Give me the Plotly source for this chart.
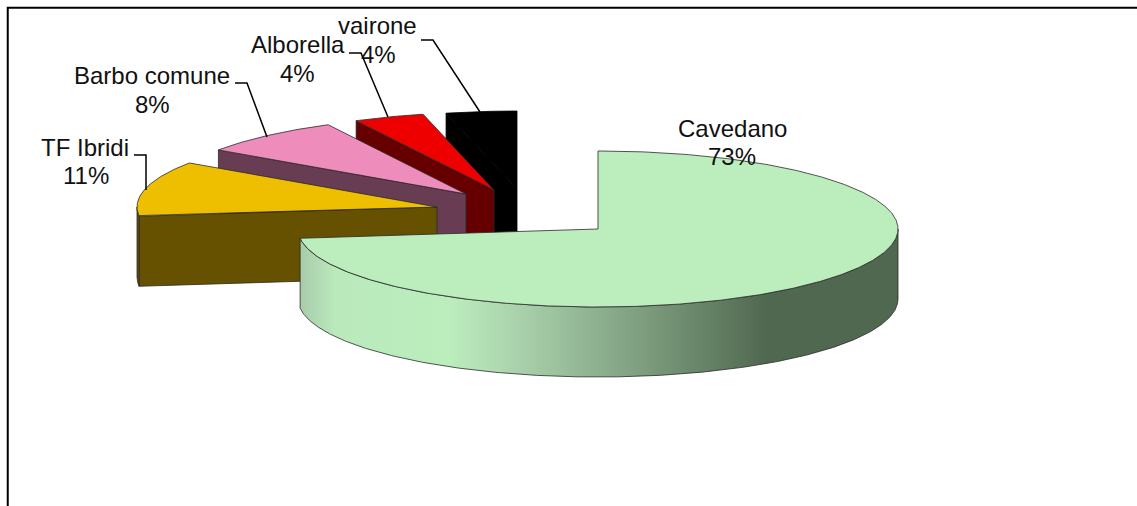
import numpy as np
import plotly.graph_objects as go

# Data
categories = ["Cavedano", "TF Ibridi", "Barbo comune", "Alborella", "vairone"]
values = [73.1, 11.45, 7.85, 3.8, 3.8]

# Styles and layout
top_colors = ["#BBEDBD", "#EEBE00", "#EE8CBC", "#EE0000", "#000000"]
wall_colors = ["#506850", "#665100", "#683C52", "#660000", "#000000"]
edge_colors = ["#2a2a2a", "#2a2a2a", "#2a2a2a", "#2a2a2a", "#000000"]
apex_x = [598, 437, 466, 494, 517]
apex_y = [229, 207, 194, 190, 189]
name_pos = [(732, 128), (85, 147), (152, 75), (298, 44), (377, 25)]
pct_pos = [(732, 156), (86, 175), (152, 104), (297, 73), (378, 54)]
leader_x = [None, (134, 146, 146), (235, 247, 267), (349, 361, 388), (421, 433, 480)]
leader_y = [None, (155, 155, 190), (83, 83, 137), (53, 53, 117), (40, 40, 112)]
RX, RY, DEPTH = 300, 78, 70
wall_scale = [[0, "#A8CBAA"], [0.06, "#BAEABC"], [0.25, "#BBEDBD"], [0.33, "#B0DAB2"],
              [0.5, "#8DB08F"], [0.78, "#506850"], [1, "#506850"]]

fig = go.Figure()


def rim(cx, cy, a0, a1):
    t = np.radians(np.linspace(a0, a1, max(int(abs(a1 - a0) * 2), 2)))
    return cx + RX * np.sin(t), cy - RY * np.cos(t)


def poly(x, y, color, edge="#2a2a2a", **kw):
    fig.add_trace(go.Scatter(x=list(x) + [x[0]], y=list(y) + [y[0]], mode="lines",
                             fill="toself", fillcolor=color, line=dict(color=edge, width=0.8),
                             hoverinfo="skip", showlegend=False, **kw))


# Slice angles, clockwise from twelve o'clock
edges = np.concatenate([[0], np.cumsum(values)]) * 3.6

# Back to front: vairone, Alborella, Barbo comune, TF Ibridi
for i in range(len(values) - 1, 0, -1):
    cx, cy = apex_x[i], apex_y[i]
    a0, a1 = edges[i], edges[i + 1]
    ax, ay = rim(cx, cy, a0, a1)
    # cut face turned toward the viewer
    poly([ax[0], cx, cx, ax[0]], [ay[0], cy, cy + DEPTH, ay[0] + DEPTH], wall_colors[i], edge_colors[i])
    # small piece of outer wall, left of the start of the arc
    if a0 < 270 < a1:
        wx, wy = rim(cx, cy, a0, 270)
        poly(np.r_[wx, wx[::-1]], np.r_[wy, wy[::-1] + DEPTH], wall_colors[i], edge_colors[i])
    poly(np.r_[cx, ax], np.r_[cy, ay], top_colors[i], edge_colors[i])

# Cavedano: outer wall with gradient, then top
cx, cy = apex_x[0], apex_y[0]
wx, wy = rim(cx, cy, 90, edges[1])
poly(np.r_[wx, wx[::-1]], np.r_[wy, wy[::-1] + DEPTH], wall_colors[0], edge_colors[0],
     fillgradient=dict(type="horizontal", colorscale=wall_scale))
ax, ay = rim(cx, cy, 0, edges[1])
poly(np.r_[cx, ax], np.r_[cy, ay], top_colors[0], edge_colors[0])

# Leader lines
for lx, ly in zip(leader_x, leader_y):
    if lx is not None:
        fig.add_trace(go.Scatter(x=lx, y=ly, mode="lines", line=dict(color="black", width=1.5),
                                 hoverinfo="skip", showlegend=False))

# Labels
font = dict(family="Liberation Sans, Arial, sans-serif", size=24, color="#111111")
for name, v, np_, pp in zip(categories, values, name_pos, pct_pos):
    fig.add_annotation(x=np_[0], y=np_[1], text=name, showarrow=False, font=font,
                       xanchor="center", yanchor="middle")
    fig.add_annotation(x=pp[0], y=pp[1], text=f"{round(v)}%", showarrow=False, font=font,
                       xanchor="center", yanchor="middle")

# Frame, open at right and bottom
fig.add_trace(go.Scatter(x=[7.75, 7.75, 1137], y=[506, 7.75, 7.75], mode="lines",
                         line=dict(color="black", width=2), hoverinfo="skip", showlegend=False))

fig.update_layout(
    width=1137, height=506, margin=dict(l=0, r=0, t=0, b=0),
    paper_bgcolor="white", plot_bgcolor="white", showlegend=False,
    xaxis=dict(range=[0, 1137], visible=False, fixedrange=True),
    yaxis=dict(range=[506, 0], visible=False, fixedrange=True),
)
fig.write_html("out.html", config=dict(displayModeBar=False),
               post_script="document.body.style.margin='0';document.body.style.overflow='hidden';")
